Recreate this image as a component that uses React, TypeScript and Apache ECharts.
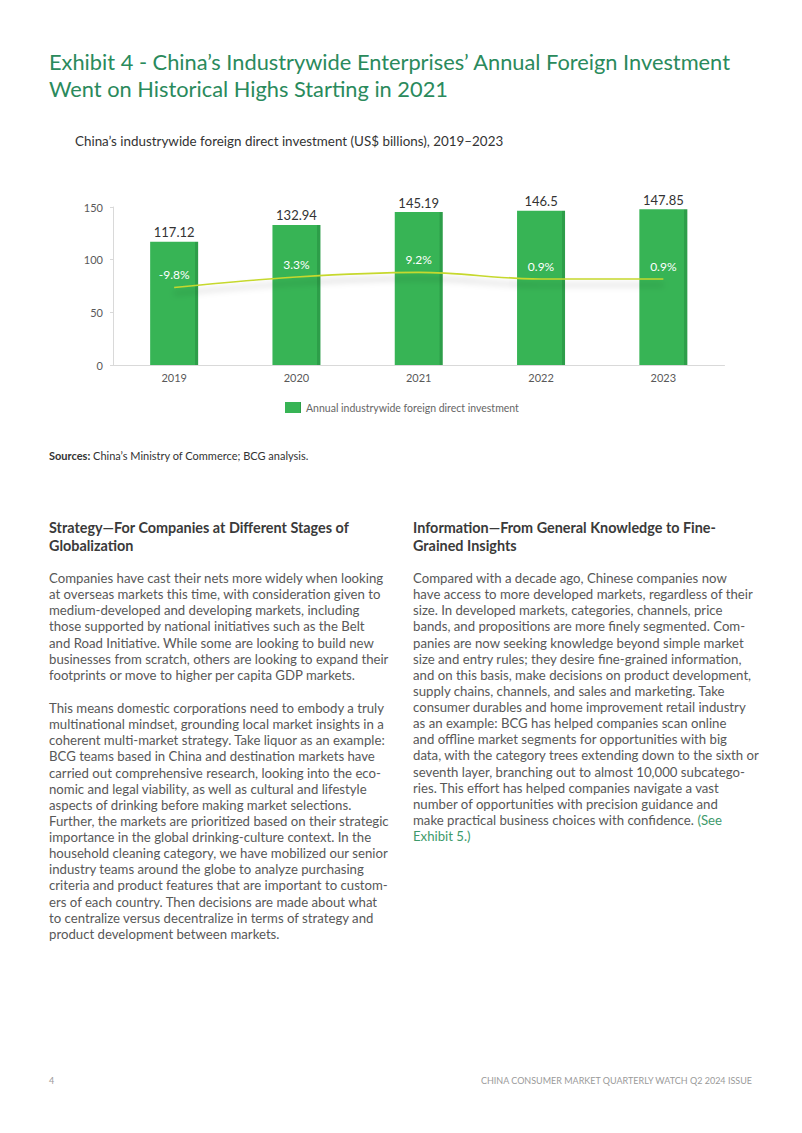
import React, { useEffect, useRef } from "react";
import * as echarts from "echarts";

const years = ["2019", "2020", "2021", "2022", "2023"];
const investment = [117.12, 132.94, 145.19, 146.5, 147.85];
const growth = [-9.8, 3.3, 9.2, 0.9, 0.9];
const growthLabels = ["-9.8%", "3.3%", "9.2%", "0.9%", "0.9%"];
const yTicks = [0, 50, 100, 150];

const titleLines = [
  "Exhibit 4 - China\u2019s Industrywide Enterprises\u2019 Annual Foreign Investment",
  "Went on Historical Highs Starting in 2021",
];
const subtitle = "China\u2019s industrywide foreign direct investment (US$ billions), 2019\u20132023";
const legendName = "Annual industrywide foreign direct investment";
const sourceLabel = "Sources:";
const sourceText = " China\u2019s Ministry of Commerce; BCG analysis.";

const leftHeading = ["Strategy\u2014For Companies at Different Stages of", "Globalization"];
const leftPara1 = [
  "Companies have cast their nets more widely when looking",
  "at overseas markets this time, with consideration given to",
  "medium-developed and developing markets, including",
  "those supported by national initiatives such as the Belt",
  "and Road Initiative. While some are looking to build new",
  "businesses from scratch, others are looking to expand their",
  "footprints or move to higher per capita GDP markets.",
];
const leftPara2 = [
  "This means domestic corporations need to embody a truly",
  "multinational mindset, grounding local market insights in a",
  "coherent multi-market strategy. Take liquor as an example:",
  "BCG teams based in China and destination markets have",
  "carried out comprehensive research, looking into the eco-",
  "nomic and legal viability, as well as cultural and lifestyle",
  "aspects of drinking before making market selections.",
  "Further, the markets are prioritized based on their strategic",
  "importance in the global drinking-culture context. In the",
  "household cleaning category, we have mobilized our senior",
  "industry teams around the globe to analyze purchasing",
  "criteria and product features that are important to custom-",
  "ers of each country. Then decisions are made about what",
  "to centralize versus decentralize in terms of strategy and",
  "product development between markets.",
];
const rightHeading = ["Information\u2014From General Knowledge to Fine-", "Grained Insights"];
const rightPara = [
  "Compared with a decade ago, Chinese companies now",
  "have access to more developed markets, regardless of their",
  "size. In developed markets, categories, channels, price",
  "bands, and propositions are more finely segmented. Com-",
  "panies are now seeking knowledge beyond simple market",
  "size and entry rules; they desire fine-grained information,",
  "and on this basis, make decisions on product development,",
  "supply chains, channels, and sales and marketing. Take",
  "consumer durables and home improvement retail industry",
  "as an example: BCG has helped companies scan online",
  "and offline market segments for opportunities with big",
  "data, with the category trees extending down to the sixth or",
  "seventh layer, branching out to almost 10,000 subcatego-",
  "ries. This effort has helped companies navigate a vast",
  "number of opportunities with precision guidance and",
  "make practical business choices with confidence. {g|(See}",
  "{g|Exhibit 5.)}",
];
const footerLeft = "4";
const footerRight = "CHINA CONSUMER MARKET QUARTERLY WATCH Q2 2024 ISSUE";

const FONT = "Lato, 'Noto Sans', sans-serif";
const GREEN_TITLE = "#2a8a5c";
const BODY = "#585858";

function textBlock(lines: string[], x: number, y0: number, step: number, size: number, weight: string, color: string, rich?: any) {
  return lines.map((t, i) => ({
    type: "text",
    x,
    y: y0 + i * step,
    silent: true,
    style: {
      text: t,
      fill: color,
      fontSize: size,
      fontWeight: weight,
      fontFamily: FONT,
      textAlign: "left",
      textVerticalAlign: "middle",
      align: "left",
      verticalAlign: "middle",
      rich,
    },
  }));
}

export default function App() {
  const ref = useRef<HTMLDivElement>(null);
  useEffect(() => {
    if (!ref.current) return;
    const chart = echarts.init(ref.current, undefined, { renderer: "svg" });
    const bodySize = 13.2;
    const step = 16.13;
    const richGreen = { g: { fill: "#3d9a6b", color: "#3d9a6b", fontSize: bodySize, fontFamily: FONT } };
    const graphics: any[] = [
      ...textBlock(titleLines, 49, 61, 27, 21.8, "normal", GREEN_TITLE),
      ...textBlock([subtitle], 75, 141, 0, 13.4, "normal", "#333"),
      {
        type: "text",
        x: 49,
        y: 455,
        silent: true,
        style: {
          text: "{b|" + sourceLabel + "}{n|" + sourceText + "}",
          verticalAlign: "middle",
          textVerticalAlign: "middle",
          rich: {
            b: { fontSize: 11, fontWeight: "bold", fontFamily: FONT, fill: "#333", color: "#333" },
            n: { fontSize: 11, fontFamily: FONT, fill: "#333", color: "#333" },
          },
        },
      },
      ...textBlock(leftHeading, 49, 527, 18, 14.4, "bold", "#3a3a3a"),
      ...textBlock(leftPara1, 49, 578, step, bodySize, "normal", BODY),
      ...textBlock(leftPara2, 49, 708, step, bodySize, "normal", BODY),
      ...textBlock(rightHeading, 413, 527, 18, 14.4, "bold", "#3a3a3a"),
      ...textBlock(rightPara, 413, 578, step, bodySize, "normal", BODY, richGreen),
      ...textBlock([footerLeft], 49, 1080, 0, 9, "normal", "#9a9a9a"),
      {
        type: "text",
        x: 752,
        y: 1080,
        silent: true,
        style: {
          text: footerRight,
          fill: "#9a9a9a",
          fontSize: 9,
          fontFamily: FONT,
          textAlign: "right",
          align: "right",
          verticalAlign: "middle",
          textVerticalAlign: "middle",
        },
      },
    ];

    chart.setOption({
      animation: false,
      backgroundColor: "#ffffff",
      textStyle: { fontFamily: FONT },
      grid: { left: 113, right: 77.5, top: 207, bottom: 1133 - 365, containLabel: false },
      legend: {
        data: [legendName],
        left: 285,
        top: 402,
        padding: 0,
        itemWidth: 16,
        itemHeight: 11,
        itemGap: 10,
        icon: "rect",
        textStyle: { fontSize: 10.5, color: "#666", fontFamily: FONT },
      },
      xAxis: {
        type: "category",
        data: years,
        axisLine: { show: true, lineStyle: { color: "#d9d9d9", width: 1 } },
        axisTick: { show: false },
        axisLabel: { color: "#595959", fontSize: 11, margin: 7, fontFamily: FONT },
      },
      yAxis: [
        {
          type: "value",
          min: yTicks[0],
          max: yTicks[yTicks.length - 1],
          interval: 50,
          axisLine: { show: true, lineStyle: { color: "#d9d9d9", width: 1 } },
          axisTick: { show: true, length: 3, lineStyle: { color: "#d9d9d9" } },
          splitLine: { show: false },
          axisLabel: { color: "#595959", fontSize: 11, margin: 10, fontFamily: FONT },
        },
        {
          type: "value",
          min: -108,
          max: 92,
          show: false,
          splitLine: { show: false },
        },
      ],
      series: [
        {
          name: legendName,
          type: "bar",
          data: investment,
          barWidth: 48,
          itemStyle: {
            color: {
              type: "linear",
              x: 0,
              y: 0,
              x2: 1,
              y2: 0,
              colorStops: [
                { offset: 0, color: "#37b455" },
                { offset: 0.93, color: "#37b455" },
                { offset: 0.935, color: "#2d9e49" },
                { offset: 1, color: "#2d9e49" },
              ],
            },
          },
          label: {
            show: true,
            position: "top",
            distance: 3,
            color: "#333",
            fontSize: 13,
            fontFamily: FONT,
          },
          z: 2,
        },
        {
          name: "growth",
          type: "line",
          yAxisIndex: 1,
          data: growth,
          smooth: 0.35,
          symbol: "circle",
          symbolSize: 1,
          showSymbol: true,
          itemStyle: { color: "rgba(0,0,0,0)" },
          lineStyle: {
            color: "#c6d82e",
            width: 1.6,
            shadowColor: "rgba(0,0,0,0.28)",
            shadowBlur: 6,
            shadowOffsetY: 6,
          },
          label: {
            show: true,
            position: "top",
            distance: 6,
            color: "#ffffff",
            fontSize: 12,
            fontFamily: FONT,
            formatter: (p: any) => growthLabels[p.dataIndex],
          },
          z: 3,
        },
      ],
      graphic: graphics,
    });
    return () => chart.dispose();
  }, []);
  return (
    <div
      ref={ref}
      style={{ position: "fixed", left: 0, top: 0, width: 802, height: 1133, background: "#fff" }}
    />
  );
}
